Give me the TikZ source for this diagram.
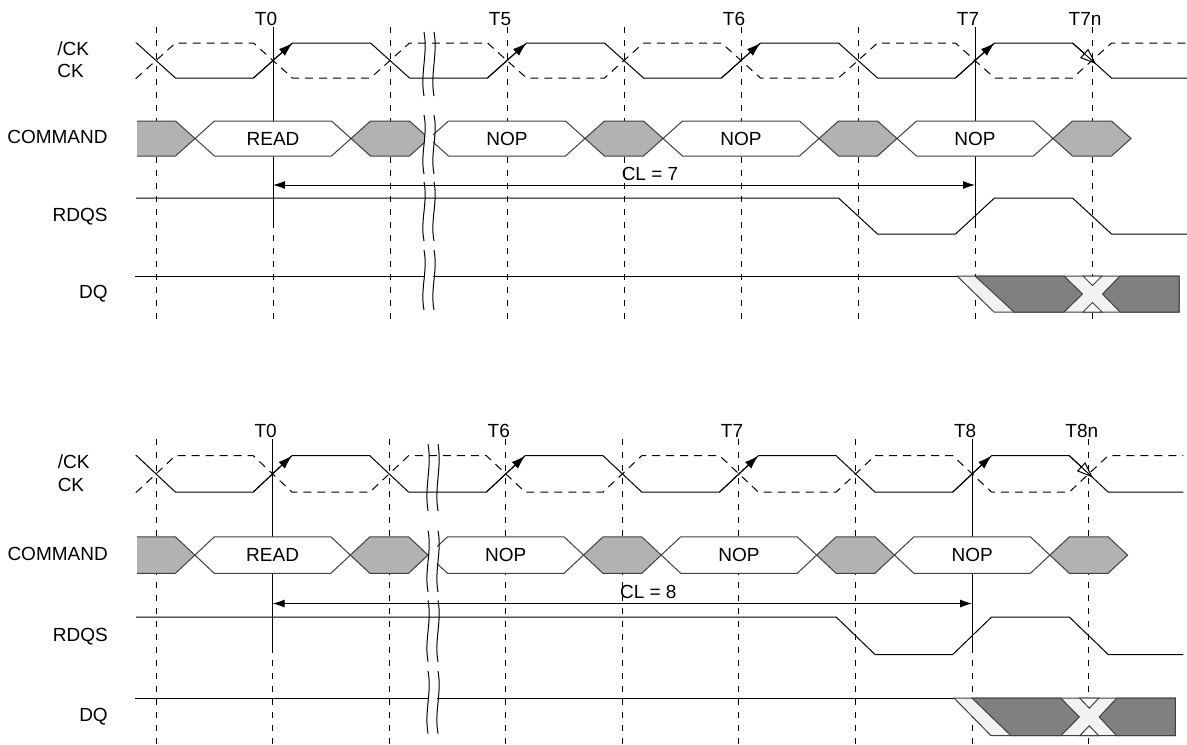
\documentclass[tikz,border=0pt]{standalone}
\usepackage{fontspec}
\setmainfont{Liberation Sans}
\usepackage{tikz}
\usetikzlibrary{arrows.meta}
\tikzset{font=\fontsize{9.5}{11}\selectfont}
\tikzset{every node/.append style={inner sep=0pt}}
\tikzset{
  sig/.style={line width=.5pt},
  clkbar/.style={sig,dash pattern=on 4pt off 3pt},
  gridline/.style={line width=.5pt,dash pattern=on 3pt off 3.5pt},
  cmdbox/.style={sig,draw=black!75,fill=white},
  idlebox/.style={sig,draw=black!75,fill=black!30},
  databox/.style={sig,draw=black!75,fill=black!50},
  gapbox/.style={sig,draw=black!75,fill=black!5},
  riseedge/.style={-{Latex[length=7pt,width=4.5pt]}},
  falledge/.style={-{Triangle[open,length=8pt,width=6pt]}},
  latency/.style={{Latex[length=6pt,width=4pt]}-{Latex[length=6pt,width=4pt]}}
}

% #1-#5 clock labels, #6 latency, #7 break position
\newcommand\readtiming[7]{%
  \foreach \x in {156,273,...,1092}
    \draw[gridline] (\x,27) -- (\x,322);
  \foreach \x/\t in {273/#1,507/#2,741/#3,975/#4,1092/#5}
    \node (lab\x) at (\x-7,19) {\t};
  \draw[sig] (273,30) -- (273,228);
  \draw[sig] (975,30) -- (975,228);

  % clocks
  \node[anchor=west] (ckbar) at (57,49) {/CK};
  \node[anchor=west] (ck) at (57,71) {CK};
  \draw[sig] (137,43) \foreach \x in {156,390,624,858}
    {-- (\x-19.5,43) -- (\x+19.5,78) -- (\x+97.5,78) -- (\x+136.5,43)}
    -- (1072.5,43) -- (1111.5,78) -- (1187,78);
  \draw[clkbar] (137,78) \foreach \x in {156,390,624,858}
    {-- (\x-19.5,78) -- (\x+19.5,43) -- (\x+97.5,43) -- (\x+136.5,78)}
    -- (1072.5,78) -- (1111.5,43) -- (1187,43);
  \foreach \x in {273,507,741,975}
    \draw[sig,riseedge] (\x-19.5,78) -- (\x+19.5,43);
  \draw[sig,falledge] (1072.5,43) -- (1096,64);

  % command bus
  \node[anchor=east] (cmd) at (108,137) {COMMAND};
  \draw[idlebox] (137,121) -- (175.5,121) -- (195,138.5) -- (175.5,156) -- (137,156);
  \foreach \x in {390,624,858,1092}
    \draw[idlebox] (\x-39,138.5) -- (\x-19.5,121) -- (\x+19.5,121)
      -- (\x+39,138.5) -- (\x+19.5,156) -- (\x-19.5,156) -- cycle;
  \foreach \x/\c in {273/READ,507/NOP,741/NOP,975/NOP}{
    \draw[cmdbox] (\x-78,138.5) -- (\x-58.5,121) -- (\x+58.5,121)
      -- (\x+78,138.5) -- (\x+58.5,156) -- (\x-58.5,156) -- cycle;
    \node (cmd\x) at (\x,138.5) {\c};
  }

  % latency
  \coordinate (rd) at (273,185);
  \coordinate (first) at (975,185);
  \draw[sig,latency] (rd) -- (first);
  \node (cl) at (650,174) {CL = #6};

  % rdqs
  \node[anchor=east] (rdqs) at (108,217) {RDQS};
  \draw[sig] (136,198) -- (838.5,198) -- (877.5,234) -- (955.5,234)
    -- (994.5,198) -- (1072.5,198) -- (1111.5,234) -- (1187,234);

  % data
  \node[anchor=east] (dq) at (108,294) {DQ};
  \draw[sig] (135,276) -- (957,276);
  \draw[gapbox] (957,276) -- (1179,276) -- (1179,312) -- (994,312) -- cycle;
  \draw[gapbox,fill=white] (1083,276) -- (1102,276) -- (1092.5,285.5) -- cycle;
  \draw[gapbox,fill=white] (1083,312) -- (1102,312) -- (1092.5,302.5) -- cycle;
  \draw[databox] (975,276) -- (1064,276) -- (1082.5,294) -- (1064,312) -- (1014,312) -- cycle;
  \draw[databox] (1102.5,294) -- (1120,276) -- (1179,276) -- (1179,312) -- (1120,312) -- cycle;

  % break
  \foreach \a/\b in {115/174,250/310}
    \fill[white] ({#7+1},\a) rectangle ({#7+9},\b);
  \foreach \a/\b in {32/96,115/174,182/241,250/310}
    \foreach \d in {0,10}
      \draw[sig] ({#7+\d},\a) .. controls ({#7+\d+4},{\a+.35*(\b-\a)})
        and ({#7+\d-4},{\a+.65*(\b-\a)}) .. ({#7+\d},\b);
}

\begin{document}
\begin{tikzpicture}[x=.5pt,y=-.5pt]
  \useasboundingbox (0,0) rectangle (1187,744);

  \readtiming{T0}{T5}{T6}{T7}{T7n}{7}{424}

  \begin{scope}[shift={(.55,410.9)},xscale=.9965,yscale=1.041]
    \readtiming{T0}{T6}{T7}{T8}{T8n}{8}{429}
  \end{scope}
\end{tikzpicture}
\end{document}
